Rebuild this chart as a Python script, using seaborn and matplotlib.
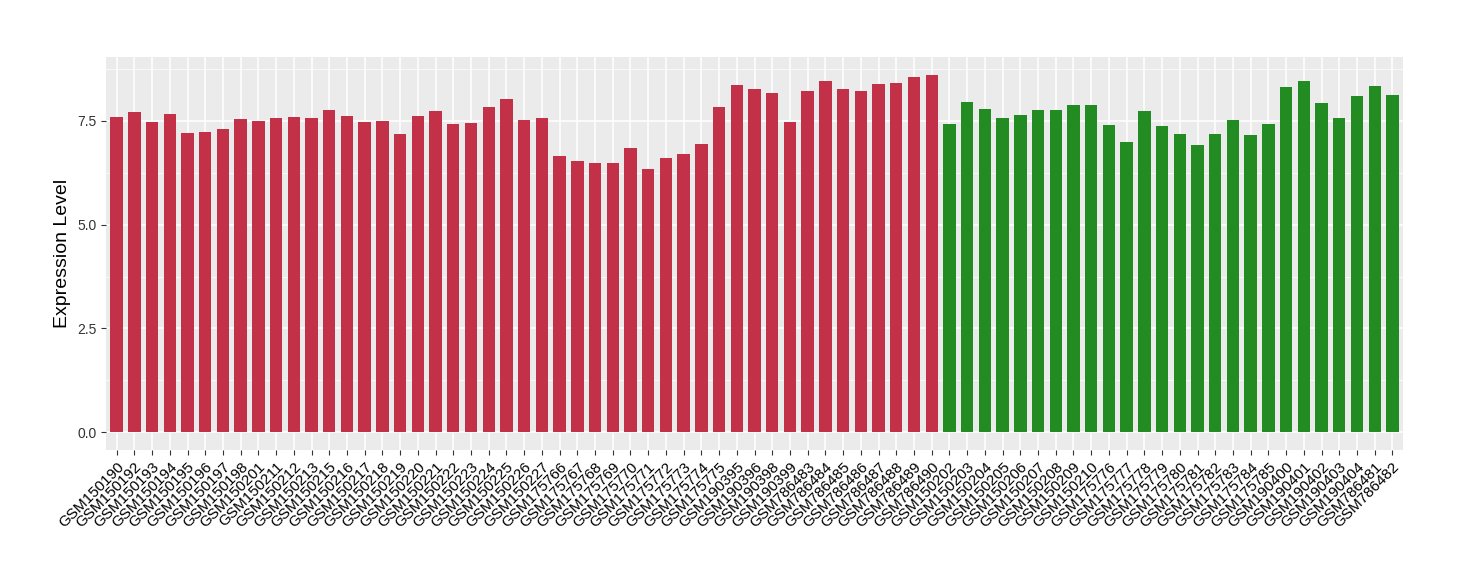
import numpy as np
import pandas as pd
import matplotlib
matplotlib.use('Agg')
import matplotlib.pyplot as plt
import seaborn as sns
from matplotlib.ticker import MultipleLocator

# 样本名称（红色组）
red_samples = ['GSM150190', 'GSM150192', 'GSM150193', 'GSM150194', 'GSM150195', 'GSM150196',
               'GSM150197', 'GSM150198', 'GSM150201', 'GSM150211', 'GSM150212', 'GSM150213',
               'GSM150215', 'GSM150216', 'GSM150217', 'GSM150218', 'GSM150219', 'GSM150220',
               'GSM150221', 'GSM150222', 'GSM150223', 'GSM150224', 'GSM150225', 'GSM150226',
               'GSM150227', 'GSM175766', 'GSM175767', 'GSM175768', 'GSM175769', 'GSM175770',
               'GSM175771', 'GSM175772', 'GSM175773', 'GSM175774', 'GSM175775', 'GSM190395',
               'GSM190396', 'GSM190398', 'GSM190399', 'GSM786483', 'GSM786484', 'GSM786485',
               'GSM786486', 'GSM786487', 'GSM786488', 'GSM786489', 'GSM786490']
red_values = [7.60, 7.72, 7.48, 7.67, 7.21, 7.24, 7.31, 7.55, 7.50, 7.57, 7.60, 7.57,
              7.76, 7.62, 7.48, 7.50, 7.19, 7.62, 7.74, 7.43, 7.45, 7.84, 8.03, 7.52,
              7.57, 6.66, 6.52, 6.49, 6.49, 6.85, 6.35, 6.61, 6.71, 6.95, 7.84, 8.36,
              8.27, 8.17, 7.48, 8.22, 8.46, 8.27, 8.22, 8.39, 8.41, 8.55, 8.60]

# 样本名称（绿色组）
green_samples = ['GSM150202', 'GSM150203', 'GSM150204', 'GSM150205', 'GSM150206', 'GSM150207',
                 'GSM150208', 'GSM150209', 'GSM150210', 'GSM175776', 'GSM175777', 'GSM175778',
                 'GSM175779', 'GSM175780', 'GSM175781', 'GSM175782', 'GSM175783', 'GSM175784',
                 'GSM175785', 'GSM190400', 'GSM190401', 'GSM190402', 'GSM190403', 'GSM190404',
                 'GSM786481', 'GSM786482']
green_values = [7.43, 7.96, 7.79, 7.57, 7.64, 7.76, 7.76, 7.88, 7.88, 7.40, 7.00, 7.74,
                7.38, 7.19, 6.92, 7.19, 7.52, 7.16, 7.43, 8.31, 8.46, 7.93, 7.57, 8.10,
                8.34, 8.12]

group_colors = {'red': '#C33149', 'green': '#228B22'}

df = pd.DataFrame({
    'sample': red_samples + green_samples,
    'value': red_values + green_values,
    'group': ['red'] * len(red_samples) + ['green'] * len(green_samples),
})

# ggplot 风格的灰色主题
plt.rcParams['font.family'] = ['Liberation Sans', 'DejaVu Sans']

fig = plt.figure(figsize=(14.6, 5.8), dpi=100)
ax = fig.add_axes([0.0726, 0.224, 0.8884, 0.678])
ax.set_facecolor('#EBEBEB')

sns.barplot(data=df, x='sample', y='value', hue='group', palette=group_colors,
            dodge=False, width=0.7, legend=False, ax=ax, zorder=3, saturation=1)

ax.set_ylim(-0.43, 9.04)
ax.set_xlim(-0.6, len(df) - 0.4)
ax.yaxis.set_major_locator(MultipleLocator(2.5))
ax.yaxis.set_minor_locator(MultipleLocator(1.25))
ax.yaxis.set_major_formatter(matplotlib.ticker.FormatStrFormatter('%.1f'))

ax.grid(which='major', color='white', linewidth=1.1, zorder=0)
ax.grid(which='minor', axis='y', color='white', linewidth=0.5, zorder=0)
ax.set_axisbelow(True)
for s in ax.spines.values():
    s.set_visible(False)

ax.tick_params(axis='both', which='major', length=3.5, color='#333333', width=0.8)
ax.tick_params(axis='y', which='minor', length=0)
ax.tick_params(axis='y', labelsize=10, labelcolor='#333333')
ax.tick_params(axis='x', labelsize=11, labelcolor='black')
plt.setp(ax.get_xticklabels(), rotation=45, ha='right', rotation_mode='anchor')

ax.set_xlabel('')
ax.set_ylabel('Expression Level', fontsize=14)

fig.savefig('out.png', dpi=100)
plt.close()
